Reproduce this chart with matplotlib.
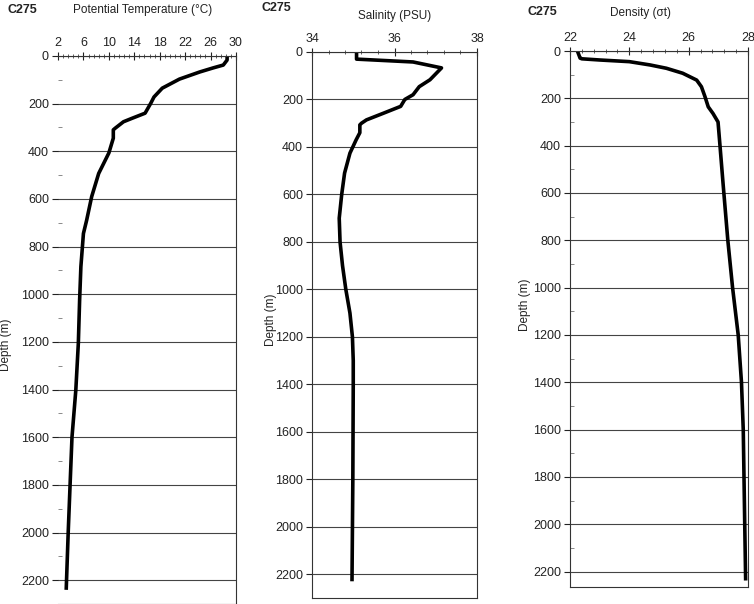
import matplotlib
matplotlib.use("Agg")
import matplotlib.pyplot as plt
from matplotlib.ticker import MultipleLocator, FixedLocator
import numpy as np

plt.rcParams['font.family'] = ['Liberation Sans', 'DejaVu Sans']

# potential temperature profile
temp_depth = [0, 17, 38, 50, 67, 97, 135, 172, 198, 240, 262, 276, 303, 310, 345, 407,
              493, 590, 690, 745, 884, 1025, 1205, 1403, 1600, 1800, 2003, 2233]
temp = [28.6, 28.6, 28.0, 26.4, 24.3, 21.1, 18.4, 17.1, 16.6, 15.7, 13.6, 12.3, 11.0, 10.7,
        10.7, 10.0, 8.4, 7.3, 6.5, 6.0, 5.6, 5.4, 5.2, 4.8, 4.2, 3.9, 3.6, 3.3]

# salinity profile
sal_depth = [0, 30, 42, 67, 117, 146, 180, 200, 229, 258, 286, 300, 307, 340, 370, 426,
             510, 600, 700, 800, 900, 1000, 1100, 1200, 1300, 1400, 1800, 2222]
sal = [35.08, 35.08, 36.45, 37.14, 36.86, 36.6, 36.45, 36.25, 36.15, 35.73, 35.32, 35.2,
       35.16, 35.16, 35.07, 34.92, 34.79, 34.72, 34.66, 34.68, 34.74, 34.82, 34.92, 34.98,
       35.0, 35.0, 34.99, 34.97]

# density profile
dens_depth = [0, 30, 33, 38, 45, 59, 73, 94, 123, 151, 193, 236, 264, 300, 391, 561,
              800, 1000, 1200, 1400, 1600, 2000, 2230]
dens = [22.25, 22.34, 22.4, 23.0, 24.0, 24.7, 25.25, 25.8, 26.27, 26.43, 26.55, 26.66,
        26.82, 26.99, 27.05, 27.16, 27.32, 27.48, 27.67, 27.78, 27.84, 27.89, 27.92]

W, H = 754, 604
fig = plt.figure(figsize=(W / 100, H / 100), dpi=100)


def px_axes(left, right, top, bottom):
    return fig.add_axes([left / W, 1 - bottom / H, (right - left) / W, (bottom - top) / H])


def style(ax, xlim, xmajor, ymax, minor_y, show_left=True):
    ax.set_xlim(*xlim)
    ax.set_ylim(ymax, 0)
    ax.xaxis.set_major_locator(FixedLocator(np.arange(xlim[0], xlim[1] + 0.01, xmajor)))
    ax.xaxis.set_minor_locator(FixedLocator(np.arange(xlim[0], xlim[1] + 0.01, xmajor / 5)))
    ax.yaxis.set_major_locator(MultipleLocator(200))
    if minor_y:
        ax.yaxis.set_minor_locator(MultipleLocator(100))
    ax.xaxis.tick_top()
    ax.xaxis.set_major_formatter(lambda v, p: f'{v:g}')
    ax.tick_params(axis='x', which='major', direction='inout', length=6, width=0.8,
                   labelsize=9, pad=2, colors='#222222')
    ax.tick_params(axis='x', which='minor', direction='inout', length=3, width=0.6,
                   colors='#444444')
    ax.tick_params(axis='y', which='major', direction='out', length=4, width=0.8,
                   labelsize=9, pad=2.5, colors='#222222')
    ax.tick_params(axis='y', which='minor', direction='in', length=3, width=0.6,
                   colors='#777777', left=minor_y)
    ax.grid(axis='y', which='major', color='#444444', linewidth=0.8)
    for s in ax.spines.values():
        s.set_color('#333333')
        s.set_linewidth(0.8)
    ax.spines['left'].set_visible(show_left)


ax1 = px_axes(58, 236, 56, 604)
style(ax1, (2, 30), 4, 2300, True, show_left=False)
ax1.plot(temp, temp_depth, color='black', linewidth=2.6)

ax2 = px_axes(312, 477, 52, 598)
style(ax2, (34, 38), 2, 2300, False)
ax2.plot(sal, sal_depth, color='black', linewidth=2.6)

ax3 = px_axes(570, 748, 51, 587)
style(ax3, (22, 28), 2, 2265, True)
ax3.plot(dens, dens_depth, color='black', linewidth=2.6)


def txt(x, y, s, **kw):
    fig.text(x / W, 1 - y / H, s, va='center', color='#222222', **kw)


txt(8, 10, 'C275', fontsize=9, fontweight='bold', ha='left')
txt(143, 10, 'Potential Temperature (°C)', fontsize=8.5, ha='center')
txt(262, 8, 'C275', fontsize=9, fontweight='bold', ha='left')
txt(395, 16, 'Salinity (PSU)', fontsize=8.5, ha='center')
txt(528, 12, 'C275', fontsize=9, fontweight='bold', ha='left')
txt(640, 13, 'Density (σt)', fontsize=8.5, ha='center')

txt(6, 345, 'Depth (m)', fontsize=8.5, ha='center', rotation=90)
txt(271, 320, 'Depth (m)', fontsize=8.5, ha='center', rotation=90)
txt(525, 305, 'Depth (m)', fontsize=8.5, ha='center', rotation=90)

fig.savefig('out.png', dpi=100)
